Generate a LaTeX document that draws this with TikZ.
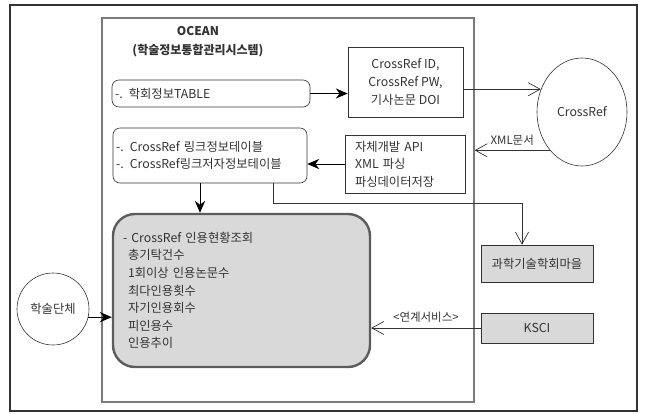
\documentclass[tikz,border=0pt]{standalone}
\usepackage{fontspec}
\setmainfont{Noto Sans CJK KR}
\usetikzlibrary{arrows.meta, shapes.geometric, calc}
\definecolor{cline}{HTML}{333333}
\definecolor{cframe}{HTML}{7A7A7A}
\definecolor{cfill}{HTML}{D9D9D9}
\definecolor{cedge}{HTML}{5C5C5C}
\tikzset{
  every picture/.style={line width=0.7pt},
  plainbox/.style={draw=cline, line width=0.6pt, inner sep=0pt},
  roundbox/.style={plainbox, rounded corners=7pt},
  greybox/.style={plainbox, fill=cfill, align=center},
  fillarrow/.style={-{Stealth[length=4.2mm, width=3.6mm]}, draw=black, line width=0.9pt},
  openarrow/.style={-{Straight Barb[length=4.2mm, width=4.6mm]}, draw=cline, line width=0.7pt},
  label/.style={font=\fontsize{11.5}{13}\selectfont, text=cline},
}
\begin{document}
\begin{tikzpicture}[x=1pt, y=-1pt, every node/.append style={font=\fontsize{12.3}{17.6}\selectfont, text=black!80}]
  \useasboundingbox (0,0) rectangle (646,413);
  % outer frame and system box
  \draw[draw=black!80, line width=1.4pt] (10,5) rectangle (637,411);
  \node[draw=cframe, line width=1.2pt, minimum width=372pt, minimum height=384pt] (ocean) at (288,210) {};
  \node[align=center, font=\bfseries\fontsize{12}{19}\selectfont] (title) at (198,42) {OCEAN\\(학술정보통합관리시스템)};

  % boxes
  \node[roundbox, minimum width=198pt, minimum height=27pt, text width=192pt, align=left] (tbl) at (211,93.5) {-. 학회정보TABLE};
  \node[plainbox, minimum width=115pt, minimum height=70pt, align=center] (acct) at (405.5,82) {CrossRef ID,\\CrossRef PW,\\기사논문 DOI};
  \node[ellipse, draw=cline, line width=0.6pt, inner sep=0pt, minimum width=90pt, minimum height=108pt] (cref) at (582,112) {CrossRef};
  \node[roundbox, minimum width=194pt, minimum height=55pt, text width=188pt, align=left] (link) at (210,155.5) {-. CrossRef 링크정보테이블\\-. CrossRef링크저자정보테이블};
  \node[plainbox, minimum width=120pt, minimum height=58pt, text width=100pt, align=left] (api) at (405,164) {자체개발 API\\XML 파싱\\파싱데이터저장};
  \node[draw=cedge, line width=2.4pt, fill=cfill, rounded corners=22pt, inner sep=0pt, minimum width=257pt, minimum height=153pt, text width=237pt, align=left] (cite) at (241.5,290.5)
    {- CrossRef 인용현황조회\\\hspace*{5pt}총기탁건수\\\hspace*{5pt}1회이상 인용논문수\\\hspace*{5pt}최다인용횟수\\\hspace*{5pt}자기인용회수\\\hspace*{5pt}피인용수\\\hspace*{5pt}인용추이};
  \node[circle, draw=cline, line width=0.6pt, inner sep=0pt, minimum size=72pt] (org) at (53,309) {학술단체};
  \node[greybox, minimum width=112pt, minimum height=37pt] (kiss) at (537,263.5) {과학기술학회마을};
  \node[greybox, minimum width=112pt, minimum height=30pt] (ksci) at (537,328) {KSCI};

  % connectors
  \draw[fillarrow] (tbl.east) -- (tbl.east -| acct.west);
  \draw[openarrow] (acct.east |- cref.151) -- (cref.151);
  \draw[openarrow] (cref.230) -- node[label, above=1pt] {XML문서} (cref.230 -| ocean.east);
  \draw[fillarrow] (api.west) -- (api.west -| link.east);
  \draw[openarrow] ([xshift=-34pt]link.south east) -- ++(0,20) -| ([xshift=-15pt]kiss.north);
  \draw[fillarrow] ([xshift=-10pt]link.south) -- ($(link.south |- cite.north)+(-10pt,0)$);
  \draw[fillarrow] (org.-13) -- (org.-13 -| cite.west);
  \draw[openarrow] (ksci.west) -- node[label, above=2pt] {<연계서비스>} (ksci.west -| cite.east);
\end{tikzpicture}
\end{document}
